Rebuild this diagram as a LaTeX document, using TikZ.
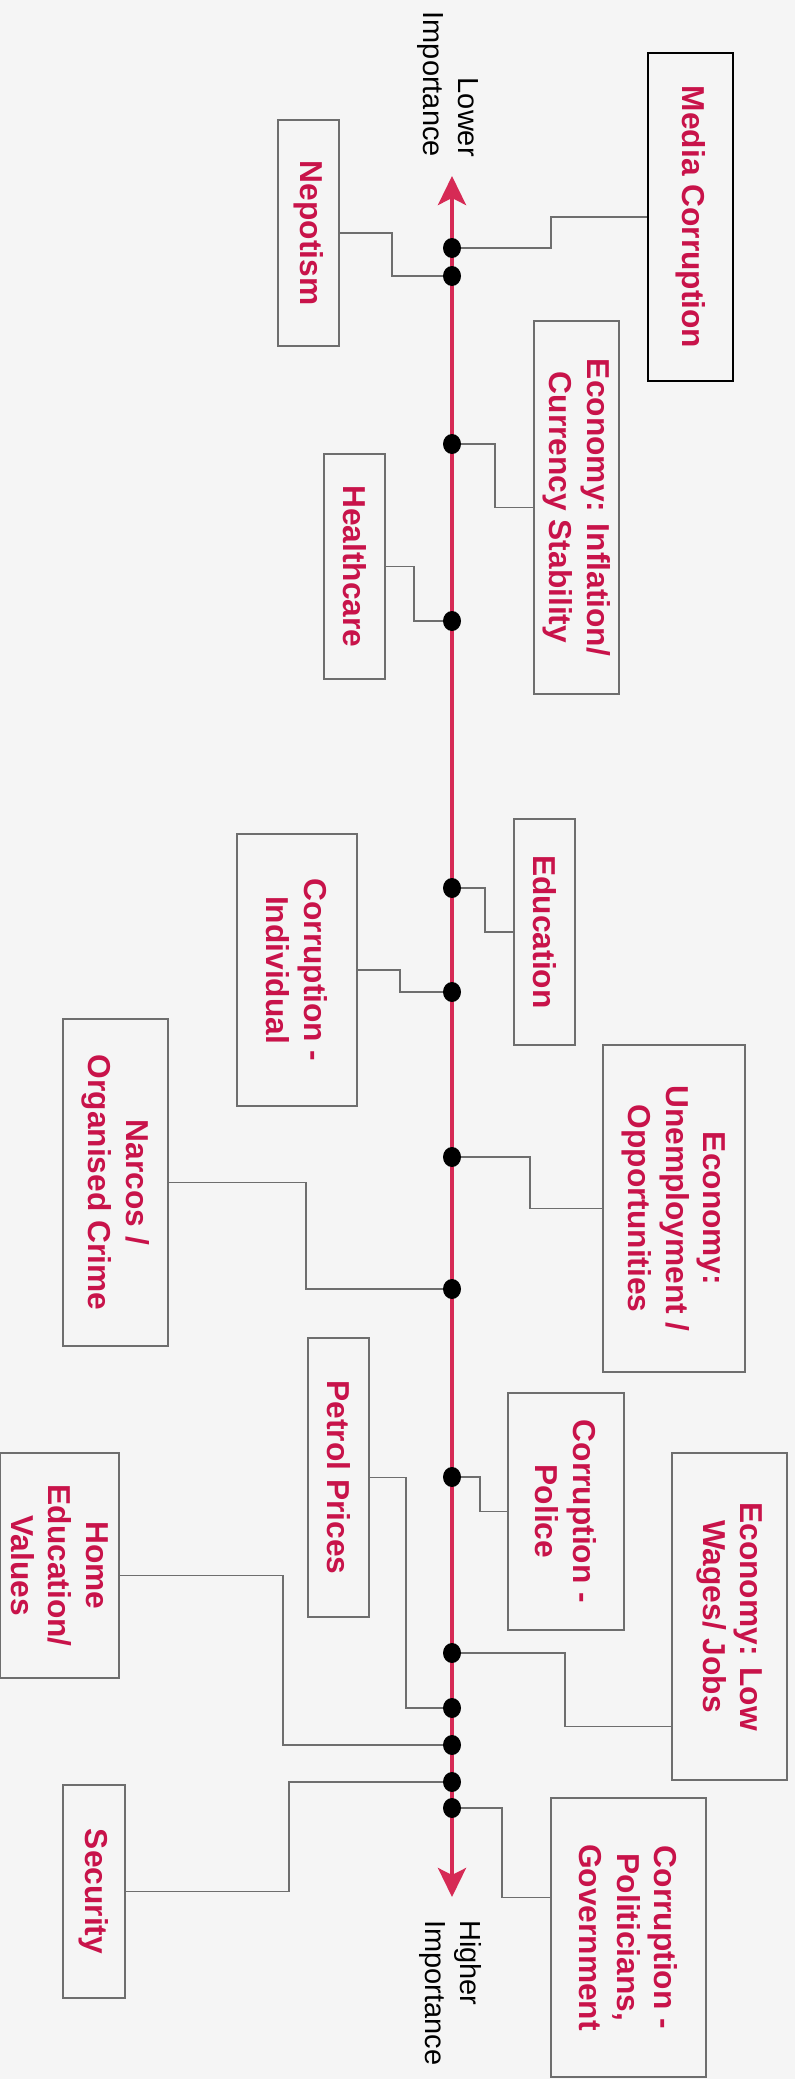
\documentclass[tikz,border=0pt]{standalone}
\usepackage{fontspec}
\setmainfont{Liberation Sans}
\usetikzlibrary{arrows.meta,calc,shapes.geometric}
\definecolor{bg}{HTML}{F5F5F5}
\definecolor{axisred}{HTML}{D62A55}
\definecolor{labelred}{HTML}{C8134A}
\definecolor{framegray}{HTML}{6E6E6E}

\begin{document}
\begin{tikzpicture}[x=1pt,y=-1pt,
  topic/.style={draw=framegray, line width=2pt, rotate=-90, inner sep=0pt,
    align=center, text=labelred,
    font=\bfseries\fontsize{31.7}{37.5}\selectfont},
  axislabel/.style={rotate=-90, inner sep=0pt, text=black,
    font=\fontsize{29}{35}\selectfont},
  conn/.style={draw=framegray, line width=1.6pt},
  dot/.style={ellipse, fill=black, minimum width=18pt, minimum height=20pt, inner sep=0pt},
  axisline/.style={draw=axisred, line width=4pt,
    {Stealth[length=29pt,width=28pt,inset=7pt]}-{Stealth[length=29pt,width=28pt,inset=7pt]}}]

\fill[bg] (0,0) rectangle (795,2079);
\useasboundingbox (0,0) rectangle (795,2079);

% importance axis
\coordinate (ax-top) at (452,176);
\coordinate (ax-bot) at (452,1897);
\draw[axisline] (ax-top) -- (ax-bot);

\node[axislabel, align=right, anchor=east] (lower) at (447.5,157) {Lower\\Importance};
\node[axislabel, align=left, anchor=west] (higher) at (450,1920) {Higher\\Importance};

% topic boxes
\node[topic, draw=black, line width=2.2pt, minimum width=328pt, minimum height=85pt] (media) at (690.5,217) {Media Corruption};
\node[topic, minimum width=226pt, minimum height=61pt] (nepo) at (308.5,233) {Nepotism};
\node[topic, minimum width=373pt, minimum height=85pt] (infl) at (576.5,507.5) {Economy: Inflation/\\Currency Stability};
\node[topic, minimum width=225pt, minimum height=61pt] (health) at (354.5,566.5) {Healthcare};
\node[topic, minimum width=226pt, minimum height=61pt] (edu) at (544.5,932) {Education};
\node[topic, minimum width=272pt, minimum height=120pt] (indiv) at (297,970) {Corruption -\\Individual};
\node[topic, minimum width=327pt, minimum height=142pt] (unemp) at (674,1208.5) {Economy:\\Unemployment /\\Opportunities};
\node[topic, minimum width=327pt, minimum height=105pt] (narcos) at (115.5,1182.5) {Narcos /\\Organised Crime};
\node[topic, minimum width=279pt, minimum height=61pt] (petrol) at (338.5,1477.5) {Petrol Prices};
\node[topic, minimum width=237pt, minimum height=116pt] (police) at (566,1511.5) {Corruption -\\Police};
\node[topic, minimum width=327pt, minimum height=115pt] (wages) at (729.5,1616.5) {Economy: Low\\Wages/ Jobs};
\node[topic, minimum width=225pt, minimum height=119pt] (home) at (59.5,1565.5) {Home\\Education/\\Values};
\node[topic, minimum width=213pt, minimum height=62pt] (security) at (94,1891.5) {Security};
\node[topic, minimum width=279pt, minimum height=155pt] (govt) at (628.5,1937.5) {Corruption -\\Politicians,\\Government};

% positions on the axis
\coordinate (p1) at (452,248);
\coordinate (p2) at (452,276);
\coordinate (p3) at (452,444);
\coordinate (p4) at (452,621);
\coordinate (p5) at (452,888);
\coordinate (p6) at (452,992);
\coordinate (p7) at (452,1157);
\coordinate (p8) at (452,1289);
\coordinate (p9) at (452,1708);
\coordinate (p10) at (452,1477);
\coordinate (p11) at (452,1653);
\coordinate (p12) at (452,1745);
\coordinate (p13) at (452,1782);
\coordinate (p14) at (452,1808);

% connectors
\draw[conn] (p1) -| ($(media.south)+(-96,0)$) -- (media.south);
\draw[conn] (p2) -| ($(nepo.north)+(52,0)$) -- (nepo.north);
\draw[conn] (p3) -| ($(infl.south)+(-38,0)$) -- (infl.south);
\draw[conn] (p4) -| ($(health.north)+(28,0)$) -- (health.north);
\draw[conn] (p5) -| ($(edu.south)+(-28,0)$) -- (edu.south);
\draw[conn] (p6) -| ($(indiv.north)+(42,0)$) -- (indiv.north);
\draw[conn] (p7) -| ($(unemp.south)+(-72,0)$) -- (unemp.south);
\draw[conn] (p8) -| ($(narcos.north)+(137,0)$) -- (narcos.north);
\draw[conn] (p9) -| ($(petrol.north)+(36,0)$) -- (petrol.north);
\draw[conn] (p10) -| ($(police.south)+(-27,0)$) -- (police.south);
\draw[conn] (p11) -| ($(wages.south)+(-106,110)$) -- ($(wages.south)+(0,110)$);
\draw[conn] (p12) -| ($(home.north)+(163,10)$) -- ($(home.north)+(0,10)$);
\draw[conn] (p13) -| ($(security.north)+(163,0)$) -- (security.north);
\draw[conn] (p14) -| ($(govt.south)+(-48,-40)$) -- ($(govt.south)+(0,-40)$);

% markers
\foreach \i in {1,...,14} {
  \node[dot] (d\i) at (p\i) {};
}
\end{tikzpicture}
\end{document}
